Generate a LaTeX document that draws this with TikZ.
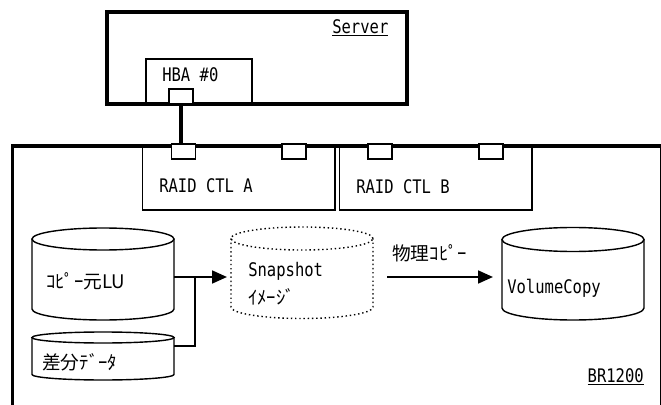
\documentclass[tikz,border=0pt]{standalone}
\usepackage{fontspec}
\setmainfont{Noto Sans CJK JP}
\newfontfamily\halfmono[FakeStretch=0.83]{DejaVu Sans Mono}
\usetikzlibrary{arrows.meta}

\begin{document}
\begin{tikzpicture}[x=0.025cm,y=0.025cm,>={Triangle[length=10.5pt,width=9pt]},
thickline/.style={line width=2.4pt},
thinline/.style={line width=1pt},
port/.style={draw,line width=1pt,fill=white,minimum width=0.6cm,minimum height=0.375cm,inner sep=0pt},
txt/.style={anchor=west,inner sep=0pt,font=\fontsize{13.3}{16}\selectfont},
latin/.style={txt,font=\fontsize{13.3}{16}\selectfont\halfmono},
flow/.style={line width=1.6pt}]
\useasboundingbox(0,0) rectangle (661,-405);
\clip(0,0) rectangle (661,-405);
\draw[thickline](12.5,-420)--(12.5,-146)--(662,-146)--(662,-420);
\draw[thinline](142.5,-146) rectangle (335,-210)
(339.5,-146) rectangle (532,-210);
\draw[thickline](107,-12) rectangle (407,-104);
\draw[thinline](146,-104)--(146,-59)--(252,-59)--(252,-104);
\node[port](hp) at (181,-96.5){};
\node[port](pa1) at (183.5,-151.5){};
\node[port](pa2) at (294,-151.5){};
\node[port](pb1) at (380,-151.5){};
\node[port](pb2) at (491,-151.5){};
\draw[thickline](hp.south)--(hp.south|-pa1.north);
%cylinders
\draw[thinline](32,-239)--(32,-309)arc(180:360:71 and 11)--(174,-239);
\draw[thinline](103,-239)ellipse(71 and 11);
\draw[thinline](32,-337.5)--(32,-374.5)arc(180:360:71 and 5.5)--(174,-337.5);
\draw[thinline](103,-337.5)ellipse(71 and 5.5);
\draw[thinline,dotted](231,-238.5)--(231,-307)arc(180:360:71 and 11.5)--(373,-238.5);
\draw[thinline,dotted](302,-238.5)ellipse(71 and 11.5);
\draw[thinline](502,-239.5)--(502,-308)arc(180:360:71 and 12)--(644,-239.5);
\draw[thinline](573,-239.5)ellipse(71 and 12);
\coordinate(luout) at (174,-277);
\coordinate(diffout) at (174,-346);
\coordinate(jn) at (195,-277);
\coordinate(snapin) at (227,-277);
\coordinate(snapout) at (387,-277);
\coordinate(volin) at (493,-277);
\draw[flow,->](luout)--(snapin);
\draw[flow](diffout)-|(jn);
\draw[flow,->](snapout)--(volin);
\node[latin](srv) at (332,-28){\underline{Server}};
\node[latin](hba) at (162,-75){HBA \#0};
\node[latin](ctla) at (159,-186){RAID CTL A};
\node[latin](ctlb) at (356,-187){RAID CTL B};
\node[txt](lu) at (46,-281){ｺﾋﾟｰ元LU};
\node[txt](diff) at (42,-362){差分ﾃﾞｰﾀ};
\node[latin](snap) at (248,-271){Snapshot};
\node[txt](img) at (248,-297){ｲﾒｰｼﾞ};
\node[txt](phys) at (392,-253){物理ｺﾋﾟｰ};
\node[latin](vol) at (507,-288){VolumeCopy};
\node[latin,anchor=east](br) at (644,-377){\underline{BR1200}};
\end{tikzpicture}
\end{document}
